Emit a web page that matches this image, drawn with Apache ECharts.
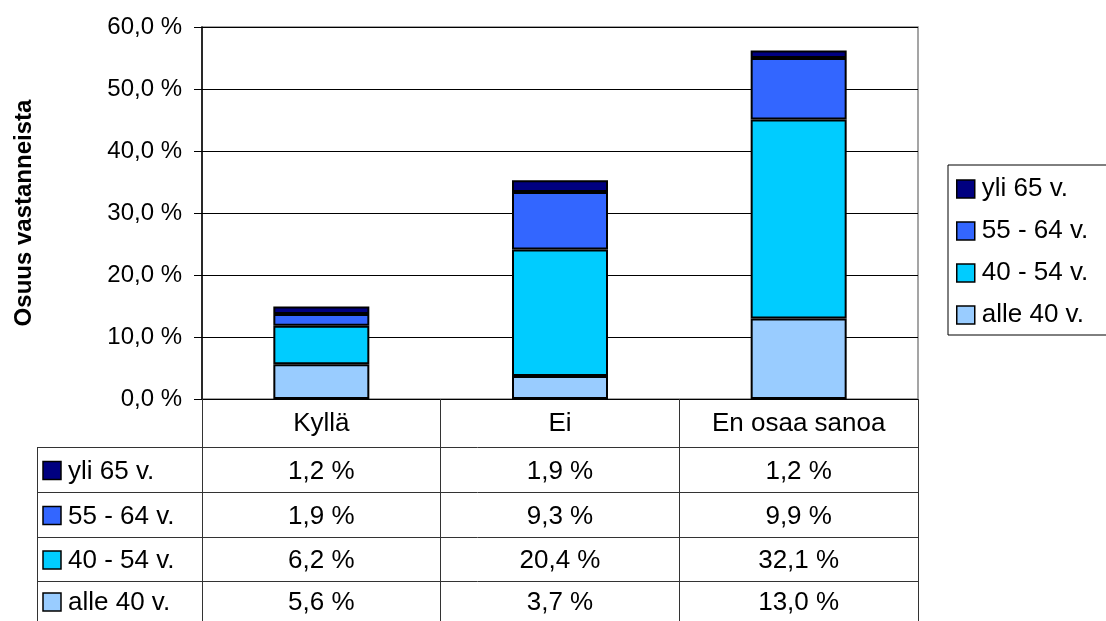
<!DOCTYPE html>
<html>
<head>
<meta charset="utf-8">
<script src="https://cdn.jsdelivr.net/npm/echarts@6/dist/echarts.min.js"></script>
<style>
  html, body { margin: 0; padding: 0; background: #fff; }
  #chart { width: 1106px; height: 621px; }
</style>
</head>
<body>
<div id="chart"></div>
<script>
var categories = ['Kyllä', 'Ei', 'En osaa sanoa'];
var seriesNames = ['alle 40 v.', '40 - 54 v.', '55 - 64 v.', 'yli 65 v.'];
var alle40 = [5.6, 3.7, 13.0];
var v40_54 = [6.2, 20.4, 32.1];
var v55_64 = [1.9, 9.3, 9.9];
var yli65 = [1.2, 1.9, 1.2];
var colors = ['#99CCFF', '#00CCFF', '#3366FF', '#000080'];
var yTicks = [0, 10, 20, 30, 40, 50, 60];

var values = [alle40, v40_54, v55_64, yli65];
var font = 'Liberation Sans, Arial, sans-serif';
var tableFont = 26;

function pct(v) {
  return v.toFixed(1).replace('.', ',') + ' %';
}

var chart = echarts.init(document.getElementById('chart'));

// grid box
var gx = 202, gy = 27, gw = 716, gh = 372;
var tableLeft = 37, tableBottom = 621;
var rowLines = [447, 492, 537, 581, 621];

// data table below the axis, built from the arrays
var graphics = [];
var colW = gw / categories.length;
rowLines.slice(0, 4).forEach(function (y) {
  graphics.push({
    type: 'line',
    shape: { x1: tableLeft, y1: y + 0.5, x2: gx + gw, y2: y + 0.5 },
    style: { stroke: '#333', lineWidth: 1 }
  });
});
graphics.push({
  type: 'line',
  shape: { x1: tableLeft + 0.5, y1: rowLines[0], x2: tableLeft + 0.5, y2: tableBottom },
  style: { stroke: '#333', lineWidth: 1 }
});
// rows in reverse series order (top row = top of stack)
for (var r = 0; r < 4; r++) {
  var si = 3 - r;
  var yc = (rowLines[r] + rowLines[r + 1]) / 2 + 1;
  graphics.push({
    type: 'rect',
    shape: { x: 43, y: yc - 9, width: 18, height: 18 },
    style: { fill: colors[si], stroke: '#000', lineWidth: 1.5 }
  });
  graphics.push({
    type: 'text',
    x: 68, y: yc + 1,
    style: { text: seriesNames[si], font: tableFont + 'px ' + font, fill: '#000', verticalAlign: 'middle', align: 'left' }
  });
  for (var c = 0; c < categories.length; c++) {
    graphics.push({
      type: 'text',
      x: gx + colW * (c + 0.5), y: yc + 1,
      style: { text: pct(values[si][c]), font: tableFont + 'px ' + font, fill: '#000', verticalAlign: 'middle', align: 'center' }
    });
  }
}

var option = {
  backgroundColor: '#fff',
  animation: false,
  textStyle: { fontFamily: font },
  grid: {
    left: gx, top: gy, width: gw, height: gh,
    show: true, borderColor: '#888', borderWidth: 1.5, backgroundColor: 'transparent'
  },
  legend: {
    orient: 'vertical',
    left: 948, top: 165,
    data: ['yli 65 v.', '55 - 64 v.', '40 - 54 v.', 'alle 40 v.'],
    icon: 'rect',
    itemWidth: 18, itemHeight: 18,
    itemGap: 16,
    padding: [11, 40, 7, 8],
    borderColor: '#000', borderWidth: 1,
    itemStyle: { borderColor: '#000', borderWidth: 1.5 },
    textStyle: { fontSize: tableFont, color: '#000', fontFamily: font, padding: [0, 0, 0, 2] }
  },
  xAxis: {
    type: 'category',
    data: categories,
    axisLine: { lineStyle: { color: '#000', width: 1 } },
    axisTick: { show: true, length: tableBottom - (gy + gh), lineStyle: { color: '#333' } },
    axisLabel: { fontSize: tableFont, color: '#000', margin: 12, fontFamily: font }
  },
  yAxis: {
    type: 'value',
    min: 0, max: 60, interval: 10,
    name: 'Osuus vastanneista',
    nameLocation: 'middle',
    nameGap: 166,
    nameTextStyle: { fontSize: 24, fontWeight: 'bold', color: '#000', fontFamily: font },
    axisLine: { show: true, lineStyle: { color: '#000', width: 1.5 } },
    axisTick: { show: true, length: 8, lineStyle: { color: '#000' } },
    axisLabel: {
      fontSize: 24, color: '#000', margin: 20, fontFamily: font,
      formatter: function (v) { return yTicks.indexOf(v) >= 0 ? pct(v) : ''; }
    },
    splitLine: { lineStyle: { color: '#000', width: 1 } }
  },
  series: seriesNames.map(function (name, i) {
    return {
      name: name,
      type: 'bar',
      stack: 'total',
      barWidth: 96,
      data: values[i],
      itemStyle: { color: colors[i], borderColor: '#000', borderWidth: 2 }
    };
  }),
  graphic: graphics
};
chart.setOption(option);
</script>
</body>
</html>
